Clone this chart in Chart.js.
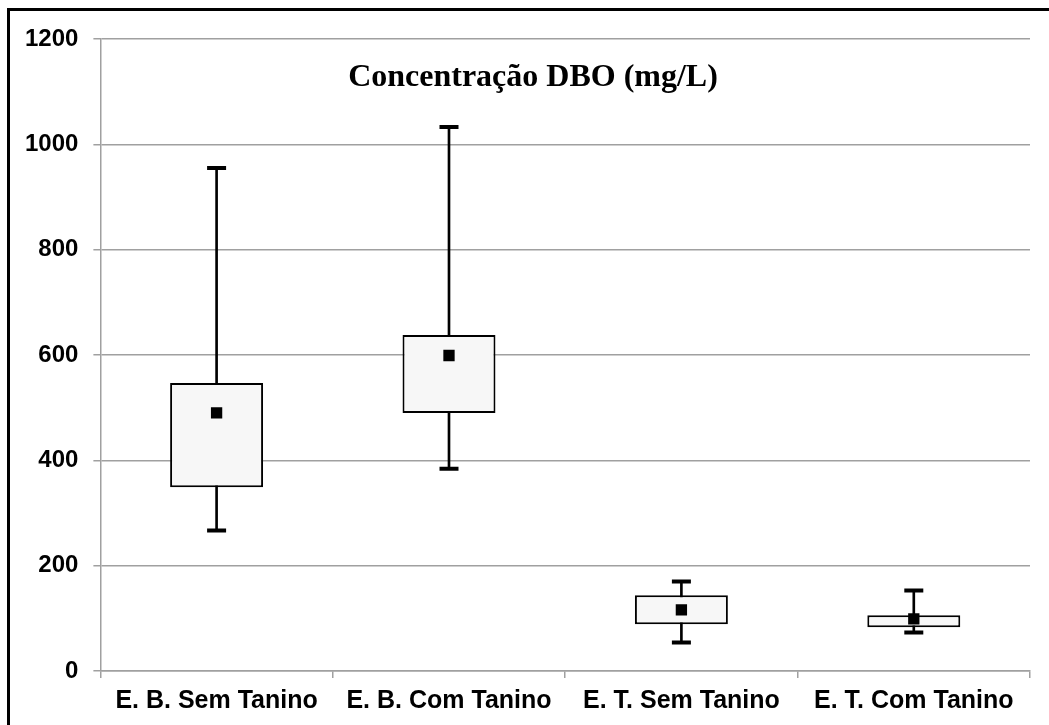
<!DOCTYPE html>
<html>
<head>
<meta charset="utf-8">
<script src="https://cdn.jsdelivr.net/npm/chart.js@4/dist/chart.umd.min.js"></script>
<style>
  html, body { margin: 0; padding: 0; background: #fff; overflow: hidden; }
  #wrap { position: relative; width: 1049px; height: 725px; }
  #frame { position: absolute; left: 7px; top: 8px; width: 1100px; height: 800px; border: 3px solid #000; pointer-events: none; }
</style>
</head>
<body>
<div id="wrap">
  <canvas id="chart" width="1049" height="725"></canvas>
  <div id="frame"></div>
</div>
<script>
  // DBO concentration (mg/L) — box plot per effluent group
  const categories = ["E. B. Sem Tanino", "E. B. Com Tanino", "E. T. Sem Tanino", "E. T. Com Tanino"];
  const minVals = [267, 384, 54, 73];
  const q1Vals = [349, 490, 89, 83];
  const q3Vals = [547, 638, 144, 106];
  const maxVals = [955, 1033, 170, 153];
  const meanVals = [490, 599, 116, 99];
  const yTicks = [0, 200, 400, 600, 800, 1000, 1200];

  const GRID = "#a0a0a0";
  const FONT_SANS = "'Liberation Sans', Arial, sans-serif";
  const FONT_SERIF = "'Liberation Serif', 'Times New Roman', serif";

  const titlePlugin = {
    id: "innerTitle",
    afterDraw(chart) {
      const ctx = chart.ctx;
      ctx.save();
      ctx.font = "bold 32px " + FONT_SERIF;
      ctx.fillStyle = "#000";
      ctx.textAlign = "center";
      ctx.textBaseline = "alphabetic";
      ctx.fillText("Concentração DBO (mg/L)", 533, 86);
      ctx.restore();
    },
  };

  new Chart(document.getElementById("chart"), {
    type: "bar",
    data: {
      labels: categories,
      datasets: [
        {
          type: "line", label: "Média", data: meanVals, order: 0,
          showLine: false, pointStyle: "rect", pointRadius: 8, pointHoverRadius: 8,
          pointBackgroundColor: "#000", pointBorderWidth: 0,
        },
        {
          type: "line", label: "Máximo", data: maxVals, order: 1,
          showLine: false, pointStyle: "line", pointRadius: 9.5, pointHoverRadius: 9.5,
          pointBorderColor: "#000", pointBorderWidth: 4,
        },
        {
          type: "line", label: "Mínimo", data: minVals, order: 1,
          showLine: false, pointStyle: "line", pointRadius: 9.5, pointHoverRadius: 9.5,
          pointBorderColor: "#000", pointBorderWidth: 4,
        },
        {
          label: "Quartis", data: categories.map((_, i) => [q1Vals[i], q3Vals[i]]), order: 2,
          grouped: false, backgroundColor: "#f7f7f7", borderColor: "#000", borderWidth: 2,
          borderSkipped: false, barPercentage: 0.4, categoryPercentage: 1.0,
        },
        {
          label: "Amplitude", data: categories.map((_, i) => [minVals[i], maxVals[i]]), order: 3,
          grouped: false, backgroundColor: "#000", borderWidth: 0, barThickness: 2,
        },
      ],
    },
    options: {
      responsive: false,
      animation: false,
      layout: { padding: { left: 10, right: 19, top: 39, bottom: 1 } },
      scales: {
        x: {
          offset: true,
          grid: { offset: true, drawOnChartArea: false, color: GRID, lineWidth: 1.5, tickLength: 7 },
          border: { color: GRID, width: 1.5 },
          ticks: { color: "#000", font: { family: FONT_SANS, size: 25, weight: "bold" }, padding: 8, maxRotation: 0 },
        },
        y: {
          min: 0, max: 1200,
          afterBuildTicks: (axis) => { axis.ticks = yTicks.map((v) => ({ value: v })); },
          grid: { color: GRID, lineWidth: 1.5, tickLength: 7 },
          border: { color: GRID, width: 1.5 },
          ticks: {
            color: "#000", font: { family: FONT_SANS, size: 24, weight: "bold" }, padding: 15,
            callback: (v) => String(v),
          },
        },
      },
      plugins: { legend: { display: false }, tooltip: { enabled: false } },
    },
    plugins: [titlePlugin],
  });
</script>
</body>
</html>
